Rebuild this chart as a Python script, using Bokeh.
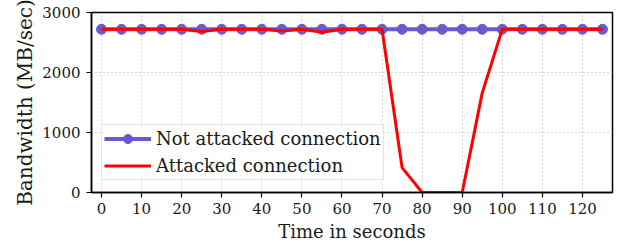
from bokeh.plotting import figure
from bokeh.models import Range1d, Legend, LegendItem, FixedTicker
from bokeh.embed import file_html
from bokeh.resources import INLINE

time_s = [0, 5, 10, 15, 20, 25, 30, 35, 40, 45, 50, 55, 60, 65, 70, 75, 80, 85, 90, 95, 100, 105, 110, 115, 120, 125]
not_attacked = [2720] * 26
attacked = [2720, 2720, 2720, 2720, 2720, 2685, 2720, 2720, 2720, 2690, 2720, 2670, 2720, 2720, 2720, 415, 0, 0, 0, 1660, 2720, 2720, 2720, 2720, 2720, 2720]
x_ticks = [0, 10, 20, 30, 40, 50, 60, 70, 80, 90, 100, 110, 120]
y_ticks = [0, 1000, 2000, 3000]

FONT = "DejaVu Serif"
TXT = "#1a1a1a"

p = figure(output_backend="svg", toolbar_location=None,
           frame_width=521, frame_height=180,
           min_border_left=91, min_border_top=12, min_border_right=4, min_border_bottom=56,
           x_range=Range1d(-2.5, 127.5), y_range=Range1d(0, 3000))

p.outline_line_color = "black"
p.outline_line_width = 1.5
p.background_fill_color = "white"
p.border_fill_color = "white"

for ax in (p.xaxis[0], p.yaxis[0]):
    ax.axis_line_width = 1.5
    ax.major_tick_line_width = 1.2
    ax.major_tick_out = 5
    ax.major_tick_in = 0
    ax.minor_tick_line_color = None
    ax.major_label_text_font = FONT
    ax.major_label_text_font_size = "15px"
    ax.axis_label_text_font = FONT
    ax.axis_label_text_font_size = "18px"
    ax.axis_label_text_font_style = "normal"
    ax.major_label_text_color = TXT
    ax.axis_label_text_color = TXT

p.yaxis.axis_label_text_font_size = "20px"
p.xaxis.ticker = FixedTicker(ticks=x_ticks)
p.yaxis.ticker = FixedTicker(ticks=y_ticks)
p.xaxis.axis_label = "Time in seconds"
p.yaxis.axis_label = "Bandwidth (MB/sec)"
p.xaxis.axis_label_standoff = 4
p.yaxis.axis_label_standoff = 2
p.xaxis.major_label_standoff = 5
p.yaxis.major_label_standoff = 6

p.xgrid.grid_line_color = "#b0b0b0"
p.ygrid.grid_line_color = "#b0b0b0"
p.xgrid.grid_line_dash = "1 3"
p.ygrid.grid_line_dash = "1 3"
p.xgrid.grid_line_width = 1
p.ygrid.grid_line_width = 1

blue = "#6a5acd"
l1 = p.line(time_s, not_attacked, line_color=blue, line_width=4)
s1 = p.scatter(time_s, not_attacked, size=10, fill_color=blue, line_color=blue)
l2 = p.line(time_s, attacked, line_color="red", line_width=3)

legend = Legend(items=[LegendItem(label="Not attacked connection", renderers=[l1, s1]),
                       LegendItem(label="Attacked connection", renderers=[l2])],
                location=(10, 12))
legend.label_text_font = FONT
legend.label_text_font_size = "18px"
legend.label_text_color = TXT
legend.border_line_color = "#cccccc"
legend.border_line_width = 1
legend.background_fill_alpha = 0.85
legend.glyph_width = 47
legend.glyph_height = 23
legend.label_height = 23
legend.spacing = 4
legend.padding = 2
legend.margin = 0
legend.label_standoff = 5
p.add_layout(legend)

open("out.html", "w").write(file_html(p, INLINE))
